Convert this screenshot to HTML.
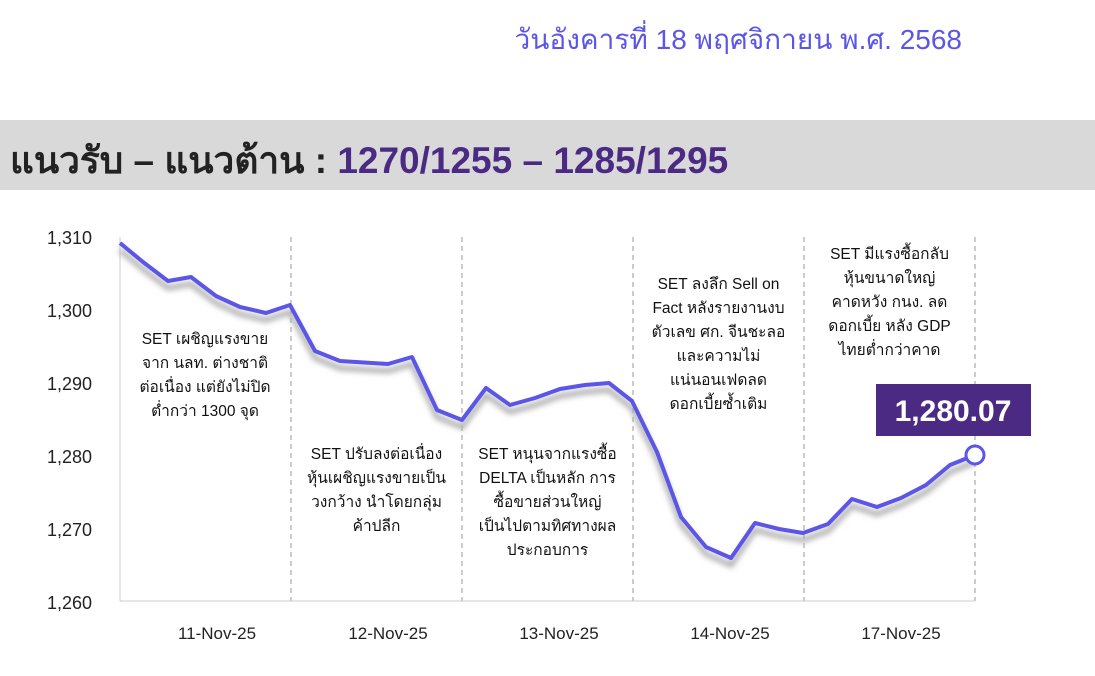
<!DOCTYPE html>
<html><head><meta charset="utf-8"><style>
body{margin:0;width:1095px;height:676px;background:#fff;position:relative;overflow:hidden;font-family:"Liberation Sans","DejaVu Sans",sans-serif}
.date{position:absolute;left:400px;top:18px;width:562px;text-align:right;color:#5b55e8;font-size:28px}
.band{position:absolute;left:0;top:120px;width:1095px;height:70px;background:#d9d9d9}
.title{position:absolute;left:10px;top:131px;font-size:37px;color:#222;font-weight:bold;letter-spacing:0px}
.title span{color:#4b2a84}
.ann{position:absolute;text-align:center;font-size:15.5px;line-height:24px;color:#111}
</style></head><body>
<div class="date">วันอังคารที่ 18 พฤศจิกายน พ.ศ. 2568</div>
<div class="band"></div>
<div class="title">แนวรับ – แนวต้าน : <span>1270/1255 – 1285/1295</span></div>
<svg width="1095" height="676" style="position:absolute;left:0;top:0">
<defs><filter id="b" x="-10%" y="-10%" width="120%" height="140%"><feGaussianBlur stdDeviation="3"/></filter></defs>
<g stroke="#999" stroke-dasharray="5,4" stroke-width="1">
<line x1="291" y1="237" x2="291" y2="601"/><line x1="462" y1="237" x2="462" y2="601"/><line x1="633" y1="237" x2="633" y2="601"/><line x1="804" y1="237" x2="804" y2="601"/><line x1="975" y1="237" x2="975" y2="601"/>
</g>
<line x1="120" y1="237" x2="120" y2="601" stroke="#ccc"/>
<line x1="120" y1="601" x2="975" y2="601" stroke="#ccc"/>
<g font-size="18" fill="#222" text-anchor="end">
<text x="92" y="244">1,310</text><text x="92" y="317">1,300</text><text x="92" y="390">1,290</text><text x="92" y="463">1,280</text><text x="92" y="536">1,270</text><text x="92" y="609">1,260</text>
</g>
<g font-size="17" fill="#222" text-anchor="middle">
<text x="217" y="639">11-Nov-25</text><text x="388" y="639">12-Nov-25</text><text x="559" y="639">13-Nov-25</text><text x="730" y="639">14-Nov-25</text><text x="901" y="639">17-Nov-25</text>
</g>
<polyline filter="url(#b)" transform="translate(0,7)" fill="none" stroke="#aaa" stroke-width="5" points="120,243 143,262 168,281 191,277 216,296 240,307 266,313 290,305 315,351 340,361 388,364 412,357 437,410 462,420 486,388 510,405 535,398 560,389 585,385 609,383 632,401 657,452 681,517 706,547 731,558 755,523 779,529 803,533 828,524 852,499 877,507 901,498 926,485 950,465 975,455"/>
<polyline fill="none" stroke="#5b55e8" stroke-width="4" stroke-linejoin="round" points="120,243 143,262 168,281 191,277 216,296 240,307 266,313 290,305 315,351 340,361 388,364 412,357 437,410 462,420 486,388 510,405 535,398 560,389 585,385 609,383 632,401 657,452 681,517 706,547 731,558 755,523 779,529 803,533 828,524 852,499 877,507 901,498 926,485 950,465 975,455"/>
<circle cx="975" cy="455" r="9" fill="#fff" stroke="#5b55e8" stroke-width="3"/>
<rect x="876" y="384" width="155" height="52" fill="#4b2a84"/>
<text x="953" y="421" fill="#fff" font-size="30" font-weight="bold" text-anchor="middle">1,280.07</text>
</svg>
<div class="ann" style="left:120px;top:328px;width:170px">SET เผชิญแรงขาย<br>จาก นลท. ต่างชาติ<br>ต่อเนื่อง แต่ยังไม่ปิด<br>ต่ำกว่า 1300 จุด</div>
<div class="ann" style="left:291px;top:443px;width:171px">SET ปรับลงต่อเนื่อง<br>หุ้นเผชิญแรงขายเป็น<br>วงกว้าง นำโดยกลุ่ม<br>ค้าปลีก</div>
<div class="ann" style="left:462px;top:443px;width:171px">SET หนุนจากแรงซื้อ<br>DELTA เป็นหลัก การ<br>ซื้อขายส่วนใหญ่<br>เป็นไปตามทิศทางผล<br>ประกอบการ</div>
<div class="ann" style="left:633px;top:273px;width:171px">SET ลงลึก Sell on<br>Fact หลังรายงานงบ<br>ตัวเลข ศก. จีนชะลอ<br>และความไม่<br>แน่นอนเฟดลด<br>ดอกเบี้ยซ้ำเติม</div>
<div class="ann" style="left:804px;top:243px;width:171px">SET มีแรงซื้อกลับ<br>หุ้นขนาดใหญ่<br>คาดหวัง กนง. ลด<br>ดอกเบี้ย หลัง GDP<br>ไทยต่ำกว่าคาด</div>
</body></html>
